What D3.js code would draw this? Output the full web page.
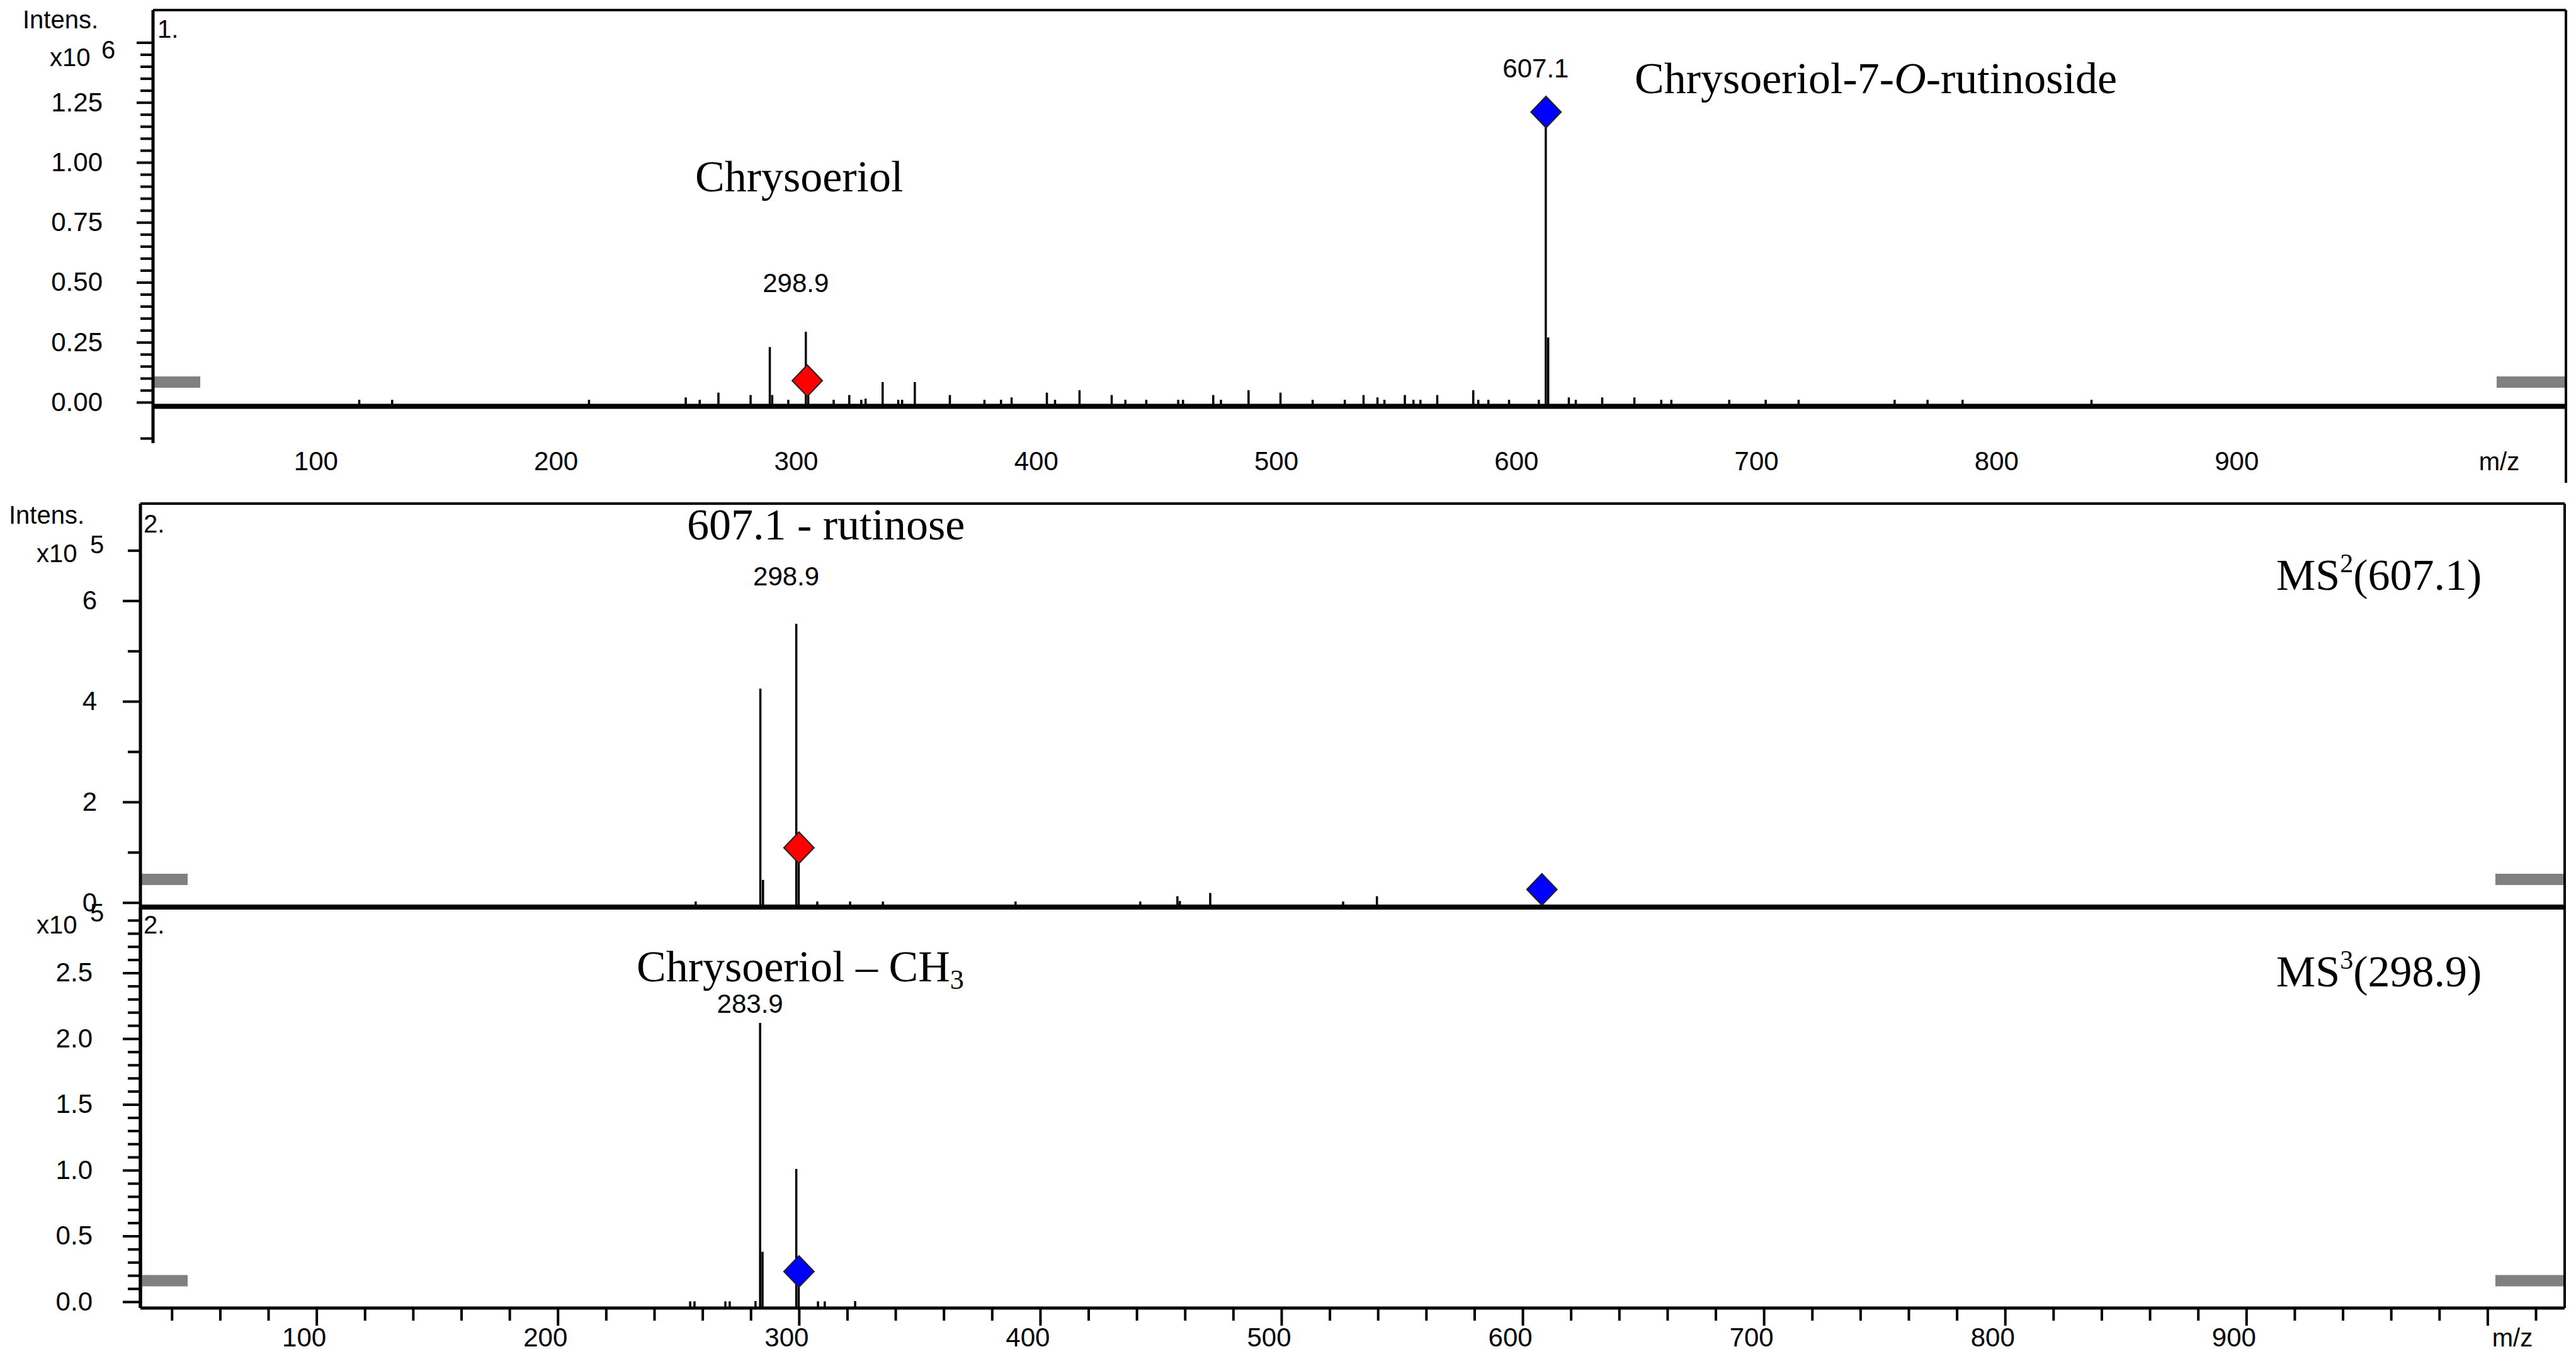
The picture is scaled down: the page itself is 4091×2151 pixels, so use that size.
<!DOCTYPE html>
<html>
<head>
<meta charset="utf-8">
<style>
    body {
        margin: 0;
        background: #fff;
    }
    svg {
        display: block;
        background: #fff;
    }
    text {
        font-family: "Liberation Sans", Arial, sans-serif;
        fill: #000;
    }
    .serif {
        font-family: "Liberation Serif", "Times New Roman", serif;
        font-size: 70px;
    }
    .tick text {
        font-size: 42px;
        font-family: "Liberation Sans", Arial, sans-serif;
    }
    .tick line {
        stroke: #000;
        stroke-width: 4;
    }
    .domain {
        display: none;
    }
    .peak {
        stroke: #000;
        stroke-width: 3.5;
    }
    .frame {
        stroke: #000;
        fill: none;
    }
    .level {
        fill: #808080;
    }
    .diamond {
        stroke: #222;
        stroke-width: 2;
    }
    .peak-label {
        font-size: 42px;
        text-anchor: middle;
    }
    .small {
        font-size: 40px;
    }
</style>
</head>
<body>
<svg width="4091" height="2151"></svg>

<script src="https://d3js.org/d3.v7.min.js"></script>
<script>
    // ---- data ----
    // m/z axis shared by the three spectra
    let mzDomain = [27, 1032]
    let mzMajor = [100, 200, 300, 400, 500, 600, 700, 800, 900, 1000]
    let mzLabels = [100, 200, 300, 400, 500, 600, 700, 800, 900]
    let mzMinor = d3.range(40, 1021, 20).filter(d => d % 100 != 0)

    // 1. full scan, intensity x10^6
    let ms1Peaks = [
        [112.9, 0.01], [126.6, 0.01], [208.6, 0.01], [248.9, 0.02], [254.7, 0.01],
        [262.5, 0.04], [275.9, 0.03], [283.9, 0.23], [284.9, 0.03], [291.6, 0.01],
        [298.9, 0.294], [299.9, 0.05], [310.5, 0.01], [317.0, 0.03], [322.0, 0.01],
        [323.8, 0.015], [330.9, 0.084], [337.4, 0.01], [339.0, 0.01], [344.3, 0.084],
        [358.9, 0.03], [373.3, 0.01], [380.2, 0.01], [384.6, 0.02], [399.3, 0.04],
        [402.7, 0.01], [412.9, 0.05], [426.3, 0.03], [432.0, 0.01], [440.7, 0.01],
        [454.0, 0.01], [456.0, 0.01], [468.6, 0.03], [471.8, 0.01], [483.3, 0.05],
        [496.6, 0.04], [510.0, 0.01], [523.4, 0.01], [531.2, 0.03], [537.0, 0.02],
        [539.9, 0.01], [548.4, 0.03], [552.0, 0.01], [554.9, 0.01], [561.9, 0.03],
        [576.9, 0.05], [579.0, 0.01], [583.2, 0.01], [591.8, 0.01], [604.2, 0.01],
        [607.1, 1.21], [608.1, 0.27], [616.7, 0.02], [619.6, 0.01], [630.6, 0.02],
        [644.0, 0.02], [655.2, 0.01], [659.4, 0.01], [683.5, 0.01], [698.7, 0.01],
        [712.4, 0.01], [752.4, 0.01], [766.1, 0.01], [780.7, 0.01], [834.4, 0.01]
    ]
    // 2. MS2 of 607.1, intensity x10^5
    let ms2Peaks = [
        [257.2, 0.02], [284.0, 4.25], [285.1, 0.45], [298.9, 5.54], [299.9, 0.84],
        [307.6, 0.02], [321.2, 0.02], [334.8, 0.02], [389.8, 0.02], [441.5, 0.02],
        [456.9, 0.125], [457.9, 0.03], [470.5, 0.19], [525.6, 0.02], [539.6, 0.125]
    ]
    // 3. MS3 of 298.9, intensity x10^5
    let ms3Peaks = [
        [254.9, 0.003], [256.7, 0.003], [269.5, 0.003], [271.3, 0.003], [282.0, 0.005],
        [283.9, 2.12], [284.9, 0.38], [298.9, 1.01], [299.9, 0.2], [307.9, 0.003],
        [310.7, 0.003], [323.3, 0.005]
    ]

    // precursor markers [m/z, intensity, colour]
    let ms1Marks = [[299.5, 0.09, "#ff0000"], [607.2, 1.21, "#0000ff"]]
    let ms2Marks = [[300.0, 1.09, "#ff0000"], [608.0, 0.26, "#0000ff"]]
    let ms3Marks = [[300.0, 0.23, "#0000ff"]]

    // peak labels [text, m/z, intensity of label baseline]
    let ms1Labels = [["298.9", 298.9, 0.46], ["607.1", 607.1, 1.354]]
    let ms2Labels = [["298.9", 298.9, 6.3]]
    let ms3Labels = [["283.9", 283.9, 2.196]]

    // grey level bars (intensity)
    let levels = [0.084, 0.46, 0.16]

    // y axes
    let yDomains = [[-0.168, 1.635], [-0.09, 7.93], [-0.048, 3.0]]
    let yMajor = [[0, 0.25, 0.5, 0.75, 1.0, 1.25, 1.5], [0, 2, 4, 6], [0, 0.5, 1.0, 1.5, 2.0, 2.5]]
    let yMinor = [
        [-0.15].concat(d3.range(1, 30).map(d => d * 0.05).filter((d, i) => (i + 1) % 5 != 0)),
        [1, 3, 5, 7],
        d3.range(1, 30).map(d => d / 10).filter((d, i) => (i + 1) % 5 != 0)
    ]
    let yFormats = [
        d => d > 1.3 ? "" : d3.format(".2f")(d),
        d => d3.format("d")(d),
        d => d3.format(".1f")(d)
    ]

    // ---- layout ----
    let svg = d3.select("svg")

    let panels = [
        { peaks: ms1Peaks, marks: ms1Marks, labels: ms1Labels,
          left: 243, right: 4075, top: 16, yRange: [703, 16], baseV: -0.017, baseW: 8,
          tickPad: 54, majorLen: 26, leftEnd: 704, rightEnd: 767 },
        { peaks: ms2Peaks, marks: ms2Marks, labels: ms2Labels,
          left: 223, right: 4073, top: 800, yRange: [1441, 800], baseV: -0.09, baseW: 8,
          tickPad: 41, majorLen: 28, leftEnd: 2078, rightEnd: 2078 },
        { peaks: ms3Peaks, marks: ms3Marks, labels: ms3Labels,
          left: 223, right: 4073, top: 1441, yRange: [2078, 1441], baseV: -0.048, baseW: 5,
          tickPad: 48, majorLen: 28, leftEnd: 2078, rightEnd: 2078 }
    ]

    let diamond = "M0,-25L24,0L0,25L-24,0Z"

    panels.forEach(function (p, i) {
        let x = d3.scaleLinear().domain(mzDomain).range([p.left, p.right])
        let y = d3.scaleLinear().domain(yDomains[i]).range(p.yRange)
        p.x = x
        p.y = y
        let g = svg.append("g").attr("class", "panel panel" + (i + 1))

        // y axis: minor and major ticks
        g.append("g")
            .attr("transform", `translate(${p.left},0)`)
            .call(d3.axisLeft(y).tickValues(yMinor[i]).tickSize(20).tickFormat(""))
        g.append("g")
            .attr("class", "y axis")
            .attr("transform", `translate(${p.left},0)`)
            .call(d3.axisLeft(y).tickValues(yMajor[i]).tickSize(p.majorLen)
                .tickPadding(p.tickPad).tickFormat(yFormats[i]))

        // grey level bars
        g.append("rect").attr("class", "level")
            .attr("x", p.left).attr("width", 75)
            .attr("y", y(levels[i]) - 9).attr("height", 18)
        g.append("rect").attr("class", "level")
            .attr("x", p.right - 110).attr("width", 110)
            .attr("y", y(levels[i]) - 9).attr("height", 18)

        // spectrum lines
        let base = y(p.baseV)
        g.append("g").selectAll("line")
            .data(p.peaks)
            .join("line")
            .attr("class", "peak")
            .attr("x1", d => x(d[0])).attr("x2", d => x(d[0]))
            .attr("y1", base).attr("y2", d => y(d[1]))

        // base line
        g.append("line")
            .attr("x1", p.left).attr("x2", p.right)
            .attr("y1", base).attr("y2", base)
            .attr("stroke", "#000").attr("stroke-width", p.baseW)

        // frame
        g.append("line").attr("class", "frame").attr("stroke-width", 4)
            .attr("x1", p.left).attr("x2", p.right).attr("y1", p.top).attr("y2", p.top)
        g.append("line").attr("class", "frame").attr("stroke-width", 5)
            .attr("x1", p.left).attr("x2", p.left).attr("y1", p.top).attr("y2", p.leftEnd)
        g.append("line").attr("class", "frame").attr("stroke-width", 4)
            .attr("x1", p.right).attr("x2", p.right).attr("y1", p.top).attr("y2", p.rightEnd)

        // precursor diamonds
        g.append("g").selectAll("path")
            .data(p.marks)
            .join("path")
            .attr("class", "diamond")
            .attr("d", diamond)
            .attr("fill", d => d[2])
            .attr("transform", d => `translate(${x(d[0])},${y(d[1])})`)

        // peak labels
        g.append("g").selectAll("text")
            .data(p.labels)
            .join("text")
            .attr("class", "peak-label")
            .attr("x", d => x(d[1]) - 16)
            .attr("y", d => y(d[2]))
            .text(d => d[0])
    })

    // x axis of spectrum 1: labels only
    let x1 = panels[0].x
    svg.append("g")
        .attr("class", "x axis")
        .attr("transform", `translate(0,703)`)
        .call(d3.axisBottom(x1).tickValues(mzLabels).tickSize(0).tickPadding(14))
        .selectAll("text").attr("x", -20)

    // x axis of spectrum 3
    let x3 = panels[2].x
    svg.append("g")
        .attr("transform", `translate(0,2078)`)
        .call(d3.axisBottom(x3).tickValues(mzMinor).tickSize(20).tickFormat(""))
    svg.append("g")
        .attr("class", "x axis")
        .attr("transform", `translate(0,2078)`)
        .call(d3.axisBottom(x3).tickValues(mzMajor).tickSize(28).tickPadding(3)
            .tickFormat(d => d == 1000 ? "" : d))
        .selectAll("text").attr("x", -20)

    svg.selectAll(".tick line").attr("stroke-width", 4)

    // ---- texts ----
    function addText(xp, yp, cls, parts) {
        let t = svg.append("text").attr("class", cls).attr("x", xp).attr("y", yp)
        parts.forEach(function (pt) {
            let s = t.append("tspan").text(pt.t)
            if (pt.italic) s.style("font-style", "italic")
            if (pt.size) s.style("font-size", pt.size + "px")
            if (pt.dy) s.attr("dy", pt.dy)
        })
        return t
    }

    // axis captions
    addText(36, 45, "small", [{ t: "Intens." }])
    addText(79, 105, "small", [{ t: "x10" }])
    addText(161, 93, "small", [{ t: "6" }])
    addText(250, 60, "small", [{ t: "1." }])
    addText(3969, 747, "small", [{ t: "m/z" }]).attr("text-anchor", "middle")

    addText(14, 832, "small", [{ t: "Intens." }])
    addText(58, 893, "small", [{ t: "x10" }])
    addText(143, 879, "small", [{ t: "5" }])
    addText(228, 846, "small", [{ t: "2." }])

    addText(58, 1483, "small", [{ t: "x10" }])
    addText(143, 1464, "small", [{ t: "5" }])
    addText(228, 1483, "small", [{ t: "2." }])
    addText(3990, 2139, "small", [{ t: "m/z" }]).attr("text-anchor", "middle")

    // compound annotations
    addText(1104, 304, "serif", [{ t: "Chrysoeriol" }])
    addText(2596, 148, "serif", [{ t: "Chrysoeriol-7-" }, { t: "O", italic: true }, { t: "-rutinoside" }])
    addText(1091, 857, "serif", [{ t: "607.1 - rutinose" }])
    addText(3615, 937, "serif", [{ t: "MS" }, { t: "2", size: 42, dy: -28 }, { t: "(607.1)", dy: 28 }])
    addText(1011, 1559, "serif", [{ t: "Chrysoeriol \u2013 CH" }, { t: "3", size: 44, dy: 12 }])
    addText(3615, 1567, "serif", [{ t: "MS" }, { t: "3", size: 42, dy: -28 }, { t: "(298.9)", dy: 28 }])
</script>
</body>
</html>
